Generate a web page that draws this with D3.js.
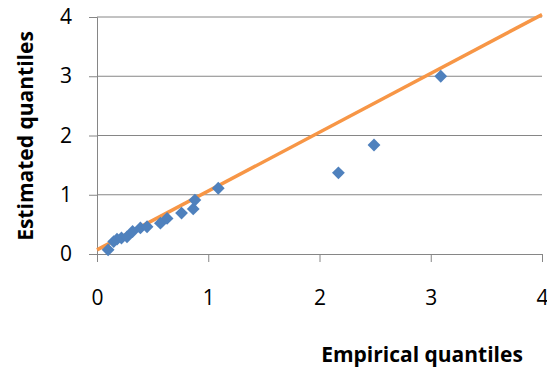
<!DOCTYPE html>
<html>
<head>
<meta charset="utf-8">
<script src="https://cdn.jsdelivr.net/npm/d3@7"></script>
<style>
  body { margin: 0; background: #fff; }
  text { font-family: "Open Sans", "Liberation Sans", sans-serif; }
</style>
</head>
<body>
<svg id="chart" width="547" height="371"></svg>
<script>
// empirical vs estimated quantiles
const empirical = [0.10, 0.15, 0.18, 0.22, 0.27, 0.32, 0.39, 0.45, 0.57, 0.63, 0.76, 0.865, 0.88, 1.09, 2.17, 2.49, 3.09];
const estimated = [0.07, 0.21, 0.25, 0.27, 0.29, 0.38, 0.44, 0.46, 0.52, 0.60, 0.69, 0.76, 0.91, 1.11, 1.37, 1.84, 3.00];
// fitted line end points
const lineX = [0, 4];
const lineY = [0.07, 4.04];
const ticks = [0, 1, 2, 3, 4];

const points = empirical.map((d, i) => ({x: d, y: estimated[i]}));

const svg = d3.select('#chart');
const x = d3.scaleLinear().domain([0, 4]).range([97, 542]);
const y = d3.scaleLinear().domain([0, 4]).range([254, 17]);

// horizontal gridlines
svg.append('g')
  .selectAll('line')
  .data(ticks.slice(1))
  .join('line')
  .attr('x1', x(0)).attr('x2', x(4))
  .attr('y1', d => y(d)).attr('y2', d => y(d))
  .attr('stroke', '#868686').attr('stroke-width', 1);

// y axis
const yAxis = svg.append('g')
  .attr('transform', `translate(${x(0)},0)`)
  .call(d3.axisLeft(y).tickValues(ticks).tickSize(8).tickPadding(17).tickFormat(d3.format('d')));
yAxis.select('.domain').attr('stroke', '#868686');
yAxis.selectAll('.tick line').attr('stroke', '#868686');
yAxis.selectAll('text').attr('font-size', 21).attr('fill', '#000')
  .attr('font-family', '"Open Sans", sans-serif');

// x axis
const xAxis = svg.append('g')
  .attr('transform', `translate(0,${y(0)})`)
  .call(d3.axisBottom(x).tickValues(ticks).tickSize(8).tickPadding(28).tickFormat(d3.format('d')));
xAxis.select('.domain').attr('stroke', '#868686');
xAxis.selectAll('.tick line').attr('stroke', '#868686');
xAxis.selectAll('text').attr('font-size', 21).attr('fill', '#000')
  .attr('font-family', '"Open Sans", sans-serif');

// fitted line
svg.append('line')
  .attr('x1', x(lineX[0])).attr('y1', y(lineY[0]))
  .attr('x2', x(lineX[1])).attr('y2', y(lineY[1]))
  .attr('stroke', '#F79646').attr('stroke-width', 3.5);

// diamonds
const diamond = d3.symbol().type(d3.symbolSquare).size(82);
svg.append('g')
  .selectAll('path')
  .data(points)
  .join('path')
  .attr('d', diamond)
  .attr('transform', d => `translate(${x(d.x)},${y(d.y)}) rotate(45)`)
  .attr('fill', '#4F81BD');

// axis titles
svg.append('text')
  .attr('transform', 'translate(33,136) rotate(-90)')
  .attr('text-anchor', 'middle')
  .attr('font-size', 21).attr('font-weight', 'bold')
  .text('Estimated quantiles');

svg.append('text')
  .attr('x', 422).attr('y', 362)
  .attr('text-anchor', 'middle')
  .attr('font-size', 21).attr('font-weight', 'bold')
  .text('Empirical quantiles');
</script>
</body>
</html>
